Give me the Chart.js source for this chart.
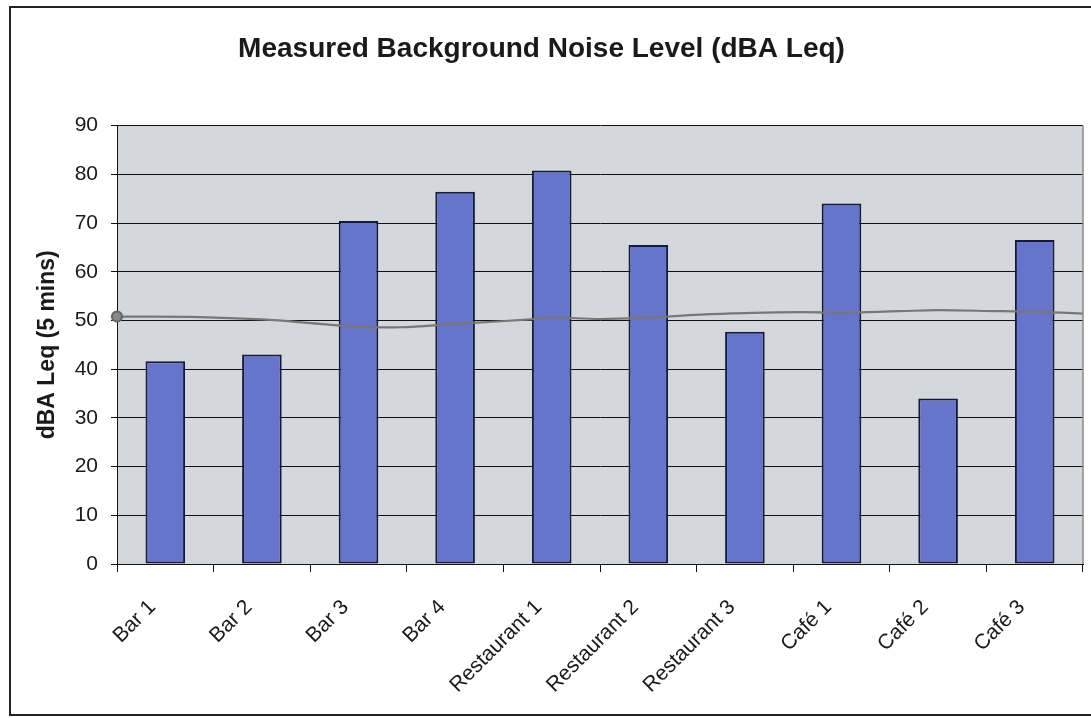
<!DOCTYPE html>
<html>
<head>
<meta charset="utf-8">
<script src="https://cdn.jsdelivr.net/npm/chart.js@4"></script>
<style>
  html, body { margin: 0; padding: 0; background: #fff; }
  #wrap { width: 1091px; height: 718px; }
</style>
</head>
<body>
<div id="wrap"><canvas id="canvas" width="1091" height="718"></canvas></div>
<script>
// values
const venues = ["Bar 1", "Bar 2", "Bar 3", "Bar 4", "Restaurant 1", "Restaurant 2",
  "Restaurant 3", "Café 1", "Café 2", "Café 3"];
const noiseLevels = [41.6, 43.0, 70.4, 76.4, 80.8, 65.5, 47.7, 74.0, 34.0, 66.5];
const yTicks = [0, 10, 20, 30, 40, 50, 60, 70, 80, 90];

// hand drawn pen line near 50 dBA (x in category units, -0.5 = left axis)
const penX = [-0.5, 0.36, 1.0, 1.6, 2.0, 2.43, 3.0, 3.78, 4.0, 4.5, 5.0, 5.54, 6.0, 6.57, 7.0, 7.6, 8.0, 8.64, 9.0, 9.5, 9.58];
const penY = [50.8, 50.7, 50.2, 49.3, 48.7, 48.6, 49.3, 50.2, 50.6, 50.3, 50.6, 51.2, 51.5, 51.7, 51.6, 51.9, 52.1, 51.9, 51.8, 51.4, 51.4];

const FONT = "'Liberation Sans', Arial, sans-serif";

const plotBackground = {
  id: "plotBackground",
  beforeDraw(chart) {
    const { ctx, chartArea } = chart;
    ctx.save();
    // outer frame of the chart object
    ctx.strokeStyle = "#222";
    ctx.lineWidth = 2;
    ctx.strokeRect(10, 7, 1100, 708);
    ctx.fillStyle = "#d4d8dd";
    ctx.fillRect(chartArea.left, chartArea.top, chartArea.right - chartArea.left, chartArea.bottom - chartArea.top);
    ctx.restore();
  },
  afterDatasetsDraw(chart) {
    const { ctx, chartArea } = chart;
    ctx.save();
    ctx.strokeStyle = "#8a8a8a";
    ctx.lineWidth = 1.5;
    ctx.beginPath();
    ctx.moveTo(chartArea.right, chartArea.top);
    ctx.lineTo(chartArea.right, chartArea.bottom);
    ctx.stroke();
    ctx.restore();
  }
};

new Chart(document.getElementById("canvas"), {
  type: "bar",
  data: {
    labels: venues,
    datasets: [
      {
        type: "line",
        data: penX.map((x, i) => ({ x: x, y: penY[i] })),
        parsing: false,
        xAxisID: "xPen",
        yAxisID: "y",
        borderColor: "#777",
        borderWidth: 2.2,
        tension: 0.4,
        pointRadius: (c) => (c.dataIndex === 0 ? 5 : 0),
        pointBackgroundColor: "#8a8a8a",
        pointBorderColor: "#666",
        clip: false,
        order: 0
      },
      {
        data: noiseLevels,
        xAxisID: "x",
        yAxisID: "y",
        grouped: false,
        backgroundColor: "#6675c9",
        borderColor: "#151a3c",
        borderWidth: 2,
        borderSkipped: false,
        categoryPercentage: 1,
        barPercentage: 0.41,
        order: 1
      }
    ]
  },
  options: {
    responsive: false,
    animation: false,
    layout: { padding: { left: 0, right: 8, top: 0, bottom: 0 } },
    plugins: {
      legend: { display: false },
      tooltip: { enabled: false },
      title: {
        display: true,
        text: "Measured Background Noise Level (dBA Leq)",
        color: "#1a1a1a",
        font: { family: FONT, size: 28, weight: "bold" },
        padding: { top: 32, bottom: 60 }
      }
    },
    scales: {
      x: {
        type: "category",
        afterFit(scale) { scale.height = 154; },
        grid: { display: true, drawOnChartArea: false, offset: true, tickLength: 8, color: "#111" },
        border: { color: "#111", width: 1 },
        ticks: {
          autoSkip: false,
          maxRotation: 45,
          minRotation: 45,
          padding: 23,
          labelOffset: -13,
          color: "#1a1a1a",
          font: { family: FONT, size: 21 }
        }
      },
      xPen: {
        type: "linear",
        display: false,
        offset: false,
        bounds: "data",
        grid: { offset: false },
        min: -0.5,
        max: 9.5
      },
      y: {
        min: 0,
        max: 90,
        afterFit(scale) { scale.width = 117; },
        afterBuildTicks(scale) { scale.ticks = yTicks.map((v) => ({ value: v })); },
        grid: { color: "#111", lineWidth: 1, tickLength: 6 },
        border: { color: "#111", width: 1 },
        ticks: {
          padding: 13,
          color: "#1a1a1a",
          font: { family: FONT, size: 21 }
        },
        title: {
          display: true,
          text: "dBA Leq (5 mins)",
          color: "#1a1a1a",
          font: { family: FONT, size: 23, weight: "bold" },
          padding: { top: 34, bottom: 0 }
        }
      }
    }
  },
  plugins: [plotBackground]
});
</script>
</body>
</html>
